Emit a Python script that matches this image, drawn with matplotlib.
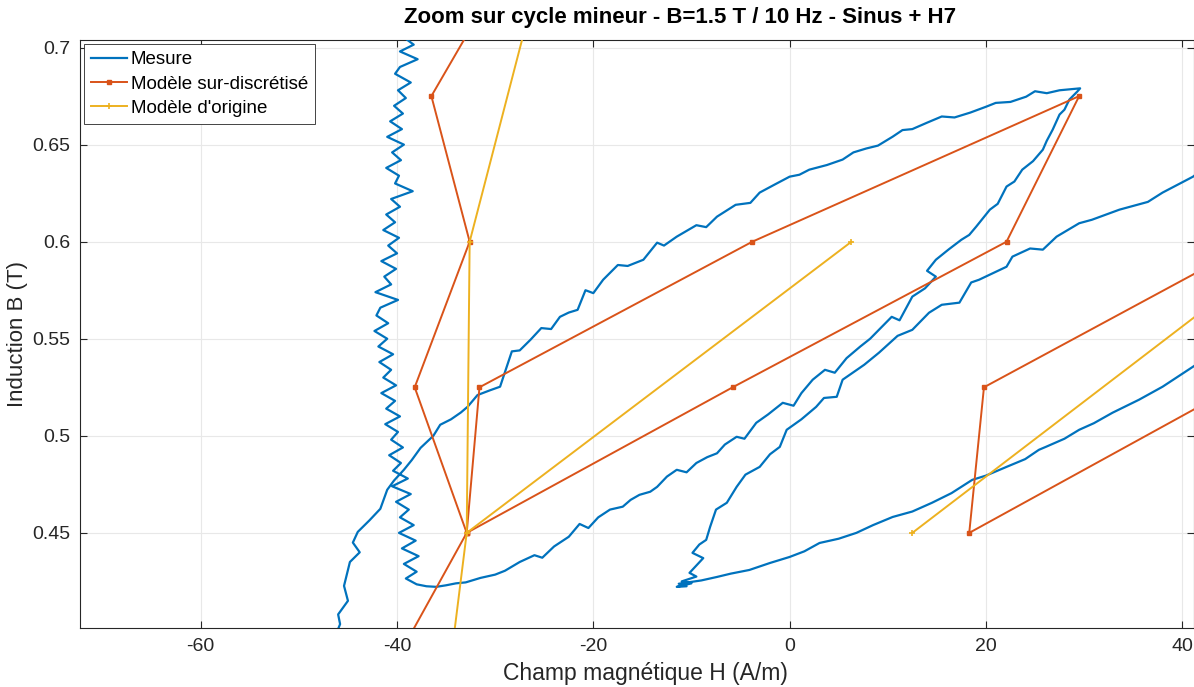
import numpy as np
import matplotlib
matplotlib.use('Agg')
import matplotlib.pyplot as plt

plt.rcParams['font.family'] = ['Liberation Sans', 'DejaVu Sans']
plt.rcParams['axes.unicode_minus'] = False

# ── Mesure: branch 1 (descending from top, into loop-1 tip, up lower side to top-right tip,
#    back along upper side and down the major branch) ──
MES1_H = [
    -39.5, -38.3, -39.7, -37.9, -39.7, -40.2, -38.6, -39.9, -39.1, -40.3,
    -39.4, -40.7, -39.5, -41.0, -39.3, -40.5, -39.6, -41.1, -39.8, -40.2,
    -38.4, -40.6, -39.7, -41.1, -40.2, -41.4, -39.8, -40.9, -40.0, -41.6,
    -40.1, -41.3, -40.6, -42.2, -39.9, -41.7, -42.1, -40.9, -42.3, -41.0,
    -41.9, -40.4, -41.8, -40.6, -41.4, -40.1, -41.6, -40.2, -41.1, -39.7,
    -41.2, -39.9, -40.6, -39.4, -40.8, -39.6, -40.4,
    -38.9, -40.5, -38.6, -40.1, -38.8, -39.7, -38.3, -39.8, -38.1, -39.5,
    -37.8, -39.3, -38.0, -39.1, -38.0, -37.0, -36.0, -35.0, -34.0,
    # lower side of loop 1
    -33.0, -31.5, -30.0, -29.0, -27.5, -26.0, -25.2, -24.0, -22.5, -21.4,
    -20.5, -19.5, -18.3, -17.0, -16.2, -15.3, -14.2, -13.5, -12.5, -11.5,
    -10.5, -9.5, -8.4, -7.4, -6.6, -5.4, -4.6, -3.4, -2.2, -0.7,
    0.4, 1.2, 2.35, 3.6, 4.6, 5.8, 7.2, 8.2, 9.1, 10.4,
    11.2, 12.5, 13.8, 14.9, 14.0, 14.9, 16.2, 17.5, 18.3, 19.0,
    20.4, 21.2, 22.1, 22.9, 23.7, 24.8, 25.8, 26.2, 26.8, 27.5,
    28.0, 28.5, 29.3, 29.6,
    # upper side of loop 1
    28.5, 27.5, 26.2, 25.0, 24.1, 22.5, 21.0, 20.0, 18.4, 16.8,
    15.5, 14.0, 12.5, 11.5, 10.5, 9.0, 7.8, 6.5, 5.4, 3.8,
    2.0, 1.0, 0.0, -1.5, -3.05, -4.0, -5.5, -7.4, -8.5, -9.5,
    -11.5, -12.8, -13.5, -14.9, -16.5, -17.5, -19.0, -20.0, -20.8, -21.6,
    -22.5, -23.4, -24.3, -25.3, -26.4, -27.5, -28.3, -29.5, -30.5, -31.8,
    -32.8, -33.5, -34.5, -35.6, -36.3, -37.6, -38.5, -39.3, -40.3, -41.0,
    -41.7, -42.8, -44.0, -44.5, -43.8, -44.8, -45.4, -45.0, -46.0, -45.8,
    -46.2,
]
MES1_B = [
    0.706, 0.7015, 0.698, 0.694, 0.690, 0.6865, 0.682, 0.678, 0.674, 0.670,
    0.666, 0.662, 0.658, 0.654, 0.650, 0.646, 0.642, 0.638, 0.634, 0.630,
    0.626, 0.622, 0.618, 0.614, 0.610, 0.606, 0.602, 0.598, 0.594, 0.590,
    0.586, 0.582, 0.578, 0.574, 0.570, 0.566, 0.562, 0.558, 0.554, 0.550,
    0.546, 0.542, 0.538, 0.534, 0.530, 0.526, 0.522, 0.518, 0.514, 0.510,
    0.506, 0.502, 0.498, 0.494, 0.490, 0.486, 0.482,
    0.478, 0.474, 0.470, 0.466, 0.462, 0.458, 0.454, 0.450, 0.446, 0.442,
    0.438, 0.434, 0.430, 0.4265, 0.4235, 0.4225, 0.4222, 0.4230, 0.4240,
    0.4245, 0.4268, 0.4285, 0.4305, 0.435, 0.4385, 0.4372, 0.443, 0.448, 0.4546,
    0.4525, 0.458, 0.462, 0.4635, 0.467, 0.4696, 0.4712, 0.4737, 0.479, 0.4825,
    0.4812, 0.486, 0.489, 0.491, 0.4955, 0.4995, 0.4985, 0.5067, 0.511, 0.517,
    0.5155, 0.522, 0.5289, 0.534, 0.5325, 0.540, 0.546, 0.550, 0.5546, 0.5613,
    0.5595, 0.5717, 0.5760, 0.582, 0.585, 0.5907, 0.596, 0.601, 0.6035, 0.6077,
    0.6165, 0.6195, 0.6284, 0.6310, 0.6371, 0.6415, 0.6474, 0.652, 0.6577, 0.6655,
    0.668, 0.6732, 0.6773, 0.679,
    0.6785, 0.678, 0.6765, 0.6775, 0.6747, 0.672, 0.6715, 0.6695, 0.6665, 0.664,
    0.6645, 0.6613, 0.658, 0.6575, 0.6541, 0.6495, 0.648, 0.646, 0.6423, 0.6395,
    0.6371, 0.6345, 0.6335, 0.6295, 0.6253, 0.620, 0.619, 0.6129, 0.6075, 0.6085,
    0.6026, 0.598, 0.5995, 0.5907, 0.5875, 0.588, 0.5804, 0.5735, 0.575, 0.5649,
    0.5635, 0.5613, 0.555, 0.5555, 0.5495, 0.544, 0.5435, 0.5253, 0.5235, 0.521,
    0.515, 0.512, 0.5085, 0.5057, 0.500, 0.4938, 0.4875, 0.4825, 0.4770, 0.4722,
    0.4624, 0.4565, 0.4505, 0.445, 0.440, 0.435, 0.4227, 0.415, 0.408, 0.403,
    0.398,
]

# ── Mesure: loop 2 (from the right, down to the tip near -11 A/m, back to the right) ──
MES2_H = [
    43.0, 41.1, 38.0, 36.5, 33.6, 30.8, 29.5, 27.2, 25.8, 24.5,
    22.7, 22.1, 19.3, 18.5, 17.3, 15.5, 14.2, 12.5, 11.0, 9.1,
    7.6, 5.4, 4.8, 3.5, 2.7, 1.2, -0.3, -1.0, -2.0, -3.05,
    -4.5, -5.4, -6.4, -7.5, -8.1, -8.5, -9.2, -9.9, -8.8, -10.2,
    -9.5, -11.0, -10.0, -11.5, -10.5, -11.3,
    -9.0, -7.4, -6.0, -4.1, -2.0, 0.0, 1.5, 3.05, 5.0, 6.8,
    8.5, 10.5, 12.5, 14.5, 16.5, 18.6, 20.0, 22.1, 24.0, 25.4,
    26.1, 28.0, 29.5, 31.0, 32.9, 35.6, 38.0, 41.1, 43.0,
]
MES2_B = [
    0.641, 0.6335, 0.6253, 0.6205, 0.6165, 0.6113, 0.6095, 0.6026, 0.5959, 0.5965,
    0.5923, 0.5871, 0.5804, 0.5790, 0.5686, 0.5675, 0.5634, 0.5546, 0.5515, 0.5428,
    0.5366, 0.5289, 0.5201, 0.5195, 0.5149, 0.5085, 0.5031, 0.4943, 0.4905, 0.484,
    0.4800, 0.4737, 0.4655, 0.4620, 0.4531, 0.4464, 0.4440, 0.4397, 0.4370, 0.4294,
    0.4275, 0.4250, 0.4240, 0.4222, 0.4225, 0.4238,
    0.4255, 0.4273, 0.4290, 0.4309, 0.4345, 0.4376, 0.4405, 0.4448, 0.4470, 0.45,
    0.4540, 0.4582, 0.4610, 0.4655, 0.4705, 0.4773, 0.4795, 0.484, 0.4880, 0.4928,
    0.4943, 0.4985, 0.5031, 0.5065, 0.5119, 0.5186, 0.5253, 0.5356, 0.5420,
]

# ── Modèle sur-discrétisé (step 0.075 T), three pieces ──
SUR_H = [-27.9, -36.5, -32.6, -38.2, -32.9, -41.1, np.nan,
         -32.9, -31.6, -3.8, 29.5, 22.1, -5.8, -32.9, np.nan,
         45.3, 18.3, 19.8, 47.3]
SUR_B = [0.75, 0.675, 0.6, 0.525, 0.45, 0.375, np.nan,
         0.45, 0.525, 0.6, 0.675, 0.6, 0.525, 0.45, np.nan,
         0.525, 0.45, 0.525, 0.6]

# ── Modèle d'origine (step 0.15 T) ──
ORI_H = [-24.9, -32.6, -32.9, -36.6, np.nan, -32.9, 6.3, np.nan, 12.5, 51.3]
ORI_B = [0.75, 0.6, 0.45, 0.3, np.nan, 0.45, 0.6, np.nan, 0.45, 0.6]

X_TICKS = [-60, -40, -20, 0, 20, 40]
Y_TICKS = [0.45, 0.5, 0.55, 0.6, 0.65, 0.7]
Y_TICKLABELS = ['0.45', '0.5', '0.55', '0.6', '0.65', '0.7']

C_BLUE, C_ORANGE, C_YELLOW = '#0072BD', '#D95319', '#EDB120'

fig = plt.figure(figsize=(11.94, 6.87), dpi=100)
ax = fig.add_axes([80 / 1194, 59 / 687, 1114 / 1194, 588 / 687])

ax.plot(MES1_H, MES1_B, color=C_BLUE, lw=1.6, label='Mesure', zorder=3)
ax.plot(MES2_H, MES2_B, color=C_BLUE, lw=1.6, zorder=3)
ax.plot(SUR_H, SUR_B, color=C_ORANGE, lw=1.4, marker='s', markersize=2.5,
        label='Modèle sur-discrétisé', zorder=4)
ax.plot(ORI_H, ORI_B, color=C_YELLOW, lw=1.4, marker='+', markersize=4,
        markeredgewidth=1.2, label="Modèle d'origine", zorder=4)

ax.set_xlim(-72.3, 41.2)
ax.set_ylim(0.4010, 0.7039)
ax.set_xticks(X_TICKS)
ax.set_yticks(Y_TICKS)
ax.set_yticklabels(Y_TICKLABELS)
ax.tick_params(direction='in', length=5, width=0.8, top=True, right=True,
               labelsize=14, colors='#262626', pad=7)
for s in ax.spines.values():
    s.set_color('#262626')
    s.set_linewidth(0.8)
ax.grid(True, color='#e8e8e8', linewidth=0.8)
ax.set_axisbelow(True)

# title is centred on the full (cropped) axes width, so it sits right of centre here
fig.text(680 / 1194, 1 - 18 / 687, 'Zoom sur cycle mineur - B=1.5 T / 10 Hz - Sinus + H7',
         fontsize=16, fontweight='bold', ha='center', va='center')
ax.set_xlabel('Champ magnétique H (A/m)', fontsize=16.5, color='#262626')
ax.xaxis.set_label_coords(0.508, -0.057)
ax.set_ylabel('Induction B (T)', fontsize=16, color='#262626', labelpad=3)

leg = ax.legend(loc='upper left', fontsize=13.5, handlelength=1.9, handletextpad=0.2,
                borderpad=0.4, labelspacing=0.38, fancybox=False, framealpha=1,
                borderaxespad=0.2)
leg.get_frame().set_edgecolor('#262626')
leg.get_frame().set_linewidth(0.6)

fig.savefig('out.png', dpi=100)
